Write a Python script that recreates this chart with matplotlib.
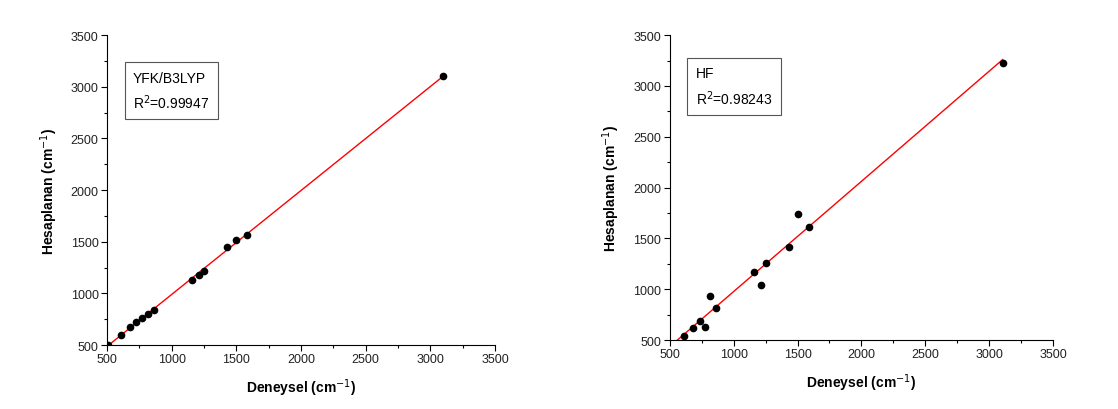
import numpy as np
import matplotlib
matplotlib.use("Agg")
import matplotlib.pyplot as plt
from matplotlib.ticker import MultipleLocator

plt.rcParams["font.family"] = ["Liberation Sans", "DejaVu Sans"]

# experimental vs calculated wavenumbers (cm-1)
dft_exp = [508, 611, 680, 727, 770, 817, 860, 1157, 1208, 1249, 1430, 1500, 1584, 3101]
dft_calc = [505, 600, 677, 726, 758, 800, 839, 1132, 1177, 1219, 1452, 1516, 1561, 3106]
dft_label = "YFK/B3LYP\nR$^2$=0.99947"

hf_exp = [612, 683, 735, 777, 819, 863, 1158, 1211, 1255, 1433, 1503, 1590, 3105]
hf_calc = [539, 621, 684, 628, 930, 815, 1170, 1045, 1255, 1419, 1741, 1609, 3224]
hf_label = "HF\nR$^2$=0.98243"

ticks = [500, 1000, 1500, 2000, 2500, 3000, 3500]


def draw_panel(ax, x, y, label, line_start, box_xy):
    x = np.array(x, dtype=float)
    y = np.array(y, dtype=float)
    slope, intercept = np.polyfit(x, y, 1)
    xs = np.array([line_start, x.max()])
    ax.plot(xs, slope * xs + intercept, color="#ff0000", linewidth=1.0, zorder=2)
    ax.plot(x, y, linestyle="None", marker="o", markersize=4.5,
            color="black", zorder=3)
    ax.set_xlim(500, 3500)
    ax.set_ylim(500, 3500)
    ax.set_xticks(ticks)
    ax.set_yticks(ticks)
    ax.xaxis.set_minor_locator(MultipleLocator(250))
    ax.yaxis.set_minor_locator(MultipleLocator(250))
    ax.tick_params(which="major", direction="out", length=4, width=0.8,
                   labelsize=9, pad=2, labelcolor="#222222")
    ax.tick_params(which="minor", direction="out", length=2.5, width=0.8)
    for side in ("top", "right"):
        ax.spines[side].set_visible(False)
    ax.set_xlabel("Deneysel (cm$^{-1}$)", fontsize=10, fontweight="bold", labelpad=8)
    ax.set_ylabel("Hesaplanan (cm$^{-1}$)", fontsize=10, fontweight="bold", labelpad=8)
    ax.text(box_xy[0], box_xy[1], label, transform=ax.transAxes, fontsize=10,
            ha="left", va="top", linespacing=1.5,
            bbox=dict(boxstyle="square,pad=0.6", facecolor="white",
                      edgecolor="#555555", linewidth=0.8))


fig = plt.figure(figsize=(11.18, 4.10), dpi=100)
ax_left = fig.add_axes([0.0957, 0.156, 0.347, 0.756])
ax_right = fig.add_axes([0.599, 0.168, 0.343, 0.744])

draw_panel(ax_left, dft_exp, dft_calc, dft_label, 500, (0.067, 0.885))
draw_panel(ax_right, hf_exp, hf_calc, hf_label, 500, (0.068, 0.898))

fig.savefig("out.png", dpi=100, facecolor="white")
